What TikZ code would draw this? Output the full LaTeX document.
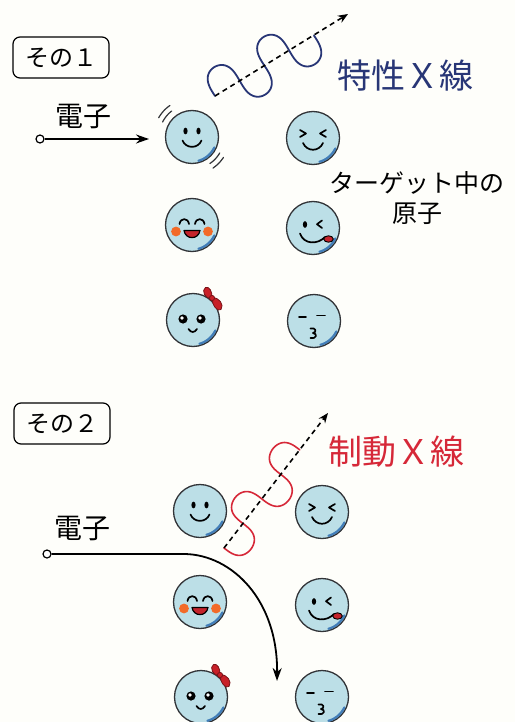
\documentclass[tikz,border=0pt]{standalone}
\usepackage{fontspec}
\newfontfamily\jp{Noto Sans CJK JP}
\usetikzlibrary{arrows.meta}

\definecolor{paper}{RGB}{254,254,250}
\definecolor{atomfill}{RGB}{188,223,231}
\definecolor{rim}{RGB}{50,52,56}
\definecolor{shine}{RGB}{45,110,178}
\definecolor{navy}{RGB}{40,54,118}
\definecolor{xred}{RGB}{214,40,56}
\definecolor{cheek}{RGB}{242,106,40}
\definecolor{mouthred}{RGB}{196,36,44}
\definecolor{bowred}{RGB}{200,32,40}

\tikzset{
  atom/.style={circle,draw=rim,fill=atomfill,line width=1.3pt,minimum size=53pt,inner sep=0pt},
  feat/.style={line width=1.7pt,draw=black,line cap=round,line join=round},
  ecirc/.style={circle,draw=black,fill=white,line width=1.2pt,minimum size=8pt,inner sep=0pt},
  eline/.style={line width=1.8pt,-{Stealth[length=13pt,width=9pt]}},
  photon/.style={line width=1.6pt,dash pattern=on 5pt off 4pt,-{Stealth[length=10pt,width=8pt]}},
  tag/.style={draw=black,rounded corners=7pt,line width=1.2pt,minimum width=96pt,minimum height=41pt,inner sep=0pt,font=\jp\fontsize{24}{28}\selectfont},
  biglabel/.style={font=\jp\fontsize{34}{40}\selectfont,inner sep=0pt},
  midlabel/.style={font=\jp\fontsize{28}{32}\selectfont,inner sep=0pt},
  smalllabel/.style={font=\jp\fontsize{25}{30}\selectfont,inner sep=0pt,align=center},
  bowpart/.style={fill=bowred,draw=bowred!60!black,line width=0.8pt,line join=round},
  % blue gloss along the lower right of each atom
  gloss/.pic={
    \draw[shine,line width=2.2pt,line cap=round,opacity=0.85]
      plot[domain=25:75,samples=25,smooth] ({24.6*cos(\x)},{24.6*sin(\x)});
  },
  face smile/.pic={
    \fill (-6.5,-6) ellipse (2.1 and 3.4);
    \fill (6.5,-6) ellipse (2.1 and 3.4);
    \draw[feat] (-9.5,3.5) .. controls (-6,12) and (6,12) .. (9.5,3.5);
  },
  face squint/.pic={
    \draw[feat] (-13,-8) -- (-7,-4.5) -- (-13,-1);
    \draw[feat] (13,-8) -- (7,-4.5) -- (13,-1);
    \draw[feat] (-10,5) .. controls (-6,14) and (6,14) .. (10,5);
  },
  face laugh/.pic={
    \draw[feat] (-12.5,-1) .. controls (-11.5,-7.5) and (-4,-7.5) .. (-3,-1);
    \draw[feat] (3,-1) .. controls (4,-7.5) and (11.5,-7.5) .. (12.5,-1);
    \fill[cheek] (-16,6.5) circle (4.9);
    \fill[cheek] (16,6.5) circle (4.9);
    \filldraw[fill=mouthred,draw=black,line width=1.2pt,line join=round]
      (-8,5.5) .. controls (-6.5,15) and (6.5,15) .. (8,5.5) -- cycle;
  },
  face wink/.pic={
    \fill (-8,-3.5) ellipse (2.1 and 3.4);
    \draw[feat] (9,-7.5) -- (4,-3.8) -- (9,0);
    \draw[feat] (-13,5.5) .. controls (-9,17) and (5,16.5) .. (12,9);
    \filldraw[fill=mouthred,draw=black,line width=0.9pt] (15.5,11) ellipse (4.8 and 3.2);
  },
  face bigeyes/.pic={
    \fill (-10,-1) circle (4.6);
    \fill (8,-1) circle (4.6);
    \fill[white] (-11,-2) circle (1.8);
    \fill[white] (7,-2) circle (1.8);
    \draw[feat] (-4.5,9) .. controls (-2,13) and (1.5,13) .. (4,9);
    \filldraw[bowpart] (19,-22) .. controls (12,-20) and (8,-30) .. (12.5,-32.5)
      .. controls (16.5,-34) and (19.5,-28) .. cycle;
    \filldraw[bowpart] (19,-22) .. controls (26,-23.5) and (31.5,-15) .. (28,-10.5)
      .. controls (24.5,-7.5) and (19,-15) .. cycle;
    \filldraw[bowpart] (19,-22) circle (2.6);
  },
  face kiss/.pic={
    \draw[feat] (-15,-4) -- (-8,-4);
    \draw[feat] (3,-5.5) -- (11,-5.5);
    \draw[feat] (-3.5,7.5) .. controls (2,6) and (3,11.5) .. (-1,12)
      .. controls (3.5,12.5) and (3,18) .. (-3.5,17);
  }
}

\begin{document}
\begin{tikzpicture}[x=1pt,y=-1pt]
\useasboundingbox (0,0) rectangle (515,722);
\fill[paper] (0,0) rectangle (515,722);
\begin{scope}
\clip (0,0) rectangle (515,722);

% ---------------- case 1: characteristic X-rays ----------------
\node[tag] (tag1) at (61,57.5) {その１};

\node[midlabel] (el1) at (83,117) {電子};
\node[ecirc] (e1) at (40,139) {};
\coordinate (e1t) at (149,139);
\draw[eline] (e1) -- (e1t);

\node[atom] (a11) at (192,137) {};
\node[atom] (a12) at (313,138) {};
\node[atom] (a21) at (192,225) {};
\node[atom] (a22) at (313,228) {};
\node[atom] (a31) at (193,320) {};
\node[atom] (a32) at (314,321) {};

\pic at (a11.center) {gloss};  \pic at (a11.center) {face smile};
\pic at (a12.center) {gloss};  \pic at (a12.center) {face squint};
\pic at (a21.center) {gloss};  \pic at (a21.center) {face laugh};
\pic at (a22.center) {gloss};  \pic at (a22.center) {face wink};
\pic at (a31.center) {gloss};  \pic at (a31.center) {face bigeyes};
\pic at (a32.center) {gloss};  \pic at (a32.center) {face kiss};

% shaking marks around the struck atom
\begin{scope}[shift={(a11.center)},rim,line width=1.2pt,line cap=round]
  \draw plot[domain=207:232,samples=12,smooth] ({33*cos(\x)},{33*sin(\x)});
  \draw plot[domain=210:235,samples=12,smooth] ({38.5*cos(\x)},{38.5*sin(\x)});
  \draw plot[domain=30:56,samples=12,smooth] ({32*cos(\x)},{32*sin(\x)});
  \draw plot[domain=33:56,samples=12,smooth] ({37.5*cos(\x)},{37.5*sin(\x)});
\end{scope}

% emitted photon with its wave: two periods of 58 along the ray, round lobes
\coordinate (x1s) at (215,96);
\coordinate (x1e) at (348,14);
\begin{scope}[shift={(x1s)}]
  \draw[navy,line width=1.8pt,line cap=round]
    plot[domain=0:720,samples=200,smooth]
      ({0.853*(0.16111*\x-5*sin(2*\x))-13.05*sin(\x)},
       {-0.522*(0.16111*\x-5*sin(2*\x))-21.325*sin(\x)});
\end{scope}
\draw[photon] (x1s) -- (x1e);
\node[biglabel,text=navy] (lx1) at (405,76) {特性Ｘ線};

\node[smalllabel] (ltarget) at (417,198) {ターゲット中の\\原子};

% ---------------- case 2: bremsstrahlung ----------------
\node[tag] (tag2) at (62,423.5) {その２};

\node[midlabel] (el2) at (82,528) {電子};
\node[ecirc] (e2) at (47,554) {};
\coordinate (e2k) at (185,554);
\coordinate (e2t) at (277,681);
\draw[eline] (e2) -- (e2k) .. controls (232,555) and (278,600) .. (e2t);

\node[atom] (b11) at (200,511) {};
\node[atom] (b12) at (322,512) {};
\node[atom] (b21) at (200,602) {};
\node[atom] (b22) at (322,605) {};
\node[atom] (b31) at (201,697) {};
\node[atom] (b32) at (322,697) {};

\pic at (b11.center) {gloss};  \pic at (b11.center) {face smile};
\pic at (b12.center) {gloss};  \pic at (b12.center) {face squint};
\pic at (b21.center) {gloss};  \pic at (b21.center) {face laugh};
\pic at (b22.center) {gloss};  \pic at (b22.center) {face wink};
\pic at (b31.center) {gloss};  \pic at (b31.center) {face bigeyes};
\pic at (b32.center) {gloss};  \pic at (b32.center) {face kiss};

% emitted photon with its wave: two periods of 62 along the ray
\coordinate (x2s) at (224,548);
\coordinate (x2e) at (328,413);
\begin{scope}[shift={(x2s)}]
  \draw[xred,line width=1.6pt,line cap=round]
    plot[domain=0:720,samples=200,smooth]
      ({0.611*(0.17222*\x-5*sin(2*\x))+17.402*sin(\x)},
       {-0.791*(0.17222*\x-5*sin(2*\x))+13.442*sin(\x)});
\end{scope}
\draw[photon] (x2s) -- (x2e);
\node[biglabel,text=xred] (lx2) at (396,452) {制動Ｘ線};

\end{scope}
\end{tikzpicture}
\end{document}
